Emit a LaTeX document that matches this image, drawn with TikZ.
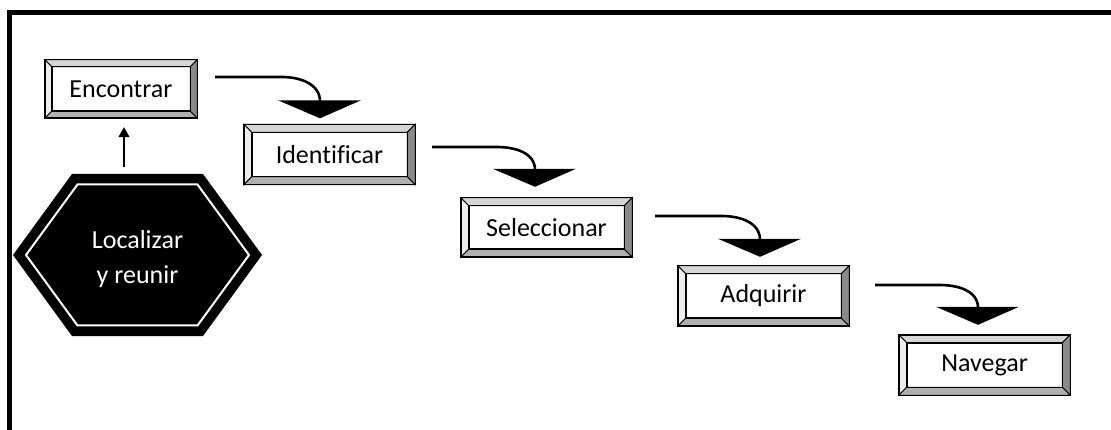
\documentclass[tikz,border=0pt]{standalone}
\usepackage{fontspec}
\setmainfont{Carlito}[Ligatures=NoCommon]
\usetikzlibrary{calc,arrows.meta}

\definecolor{bevtop}{HTML}{D6D6D6}
\definecolor{bevleft}{HTML}{EDEDED}
\definecolor{bevright}{HTML}{8A8A8A}
\definecolor{bevbottom}{HTML}{B0B0B0}

\tikzset{
  stepbox/.style={fill=white, minimum height=44, minimum width=155,
    inner sep=0pt, font=\fontsize{26}{30}\selectfont},
  flowline/.style={line width=2.6pt},
  headfill/.style={fill=black},
  uparrow/.style={line width=1.5pt, -{Triangle[width=11pt,length=10pt]}},
  hexlabel/.style={text=white, align=center, font=\fontsize{26}{35}\selectfont},
}

% bevelled frame around a named box: #1 node, #2 bevel width
\newcommand\bevelframe[2]{%
  \begin{scope}[line width=0.8pt, line join=miter]
    \filldraw[fill=bevtop]    ($(#1.north west)+(-#2,-#2)$) -- ($(#1.north east)+(#2,-#2)$) -- (#1.north east) -- (#1.north west) -- cycle;
    \filldraw[fill=bevleft]   ($(#1.north west)+(-#2,-#2)$) -- ($(#1.south west)+(-#2,#2)$) -- (#1.south west) -- (#1.north west) -- cycle;
    \filldraw[fill=bevright]  ($(#1.north east)+(#2,-#2)$) -- ($(#1.south east)+(#2,#2)$) -- (#1.south east) -- (#1.north east) -- cycle;
    \filldraw[fill=bevbottom] ($(#1.south west)+(-#2,#2)$) -- ($(#1.south east)+(#2,#2)$) -- (#1.south east) -- (#1.south west) -- cycle;
    \draw[line width=1.4pt] ($(#1.north west)+(-#2,-#2)$) rectangle ($(#1.south east)+(#2,#2)$);
    \draw[line width=1.4pt] (#1.north west) rectangle (#1.south east);
  \end{scope}}

% curved connector with a wide triangular head:
% #1 source, #2 target, #3 start offset from source east, #4 tip offset from target north
\newcommand\flowarrow[4]{%
  \coordinate (fs) at ($(#1.east)+(#3)$);
  \coordinate (ft) at ($(#2.north)+(#4)$);
  \coordinate (fc) at (fs -| ft);
  \draw[flowline] (fs) -- ($(fc)+(-38,0)$) to[out=0,in=90] ($(ft)+(0,-17)$);
  \fill[headfill] ($(ft)+(-42,-18)$) -- ($(ft)+(41,-18)$) -- (ft) -- cycle;}

\begin{document}
\begin{tikzpicture}[x=1pt,y=-1pt]
  \useasboundingbox (0,0) rectangle (1111,430);
  \fill[white] (0,0) rectangle (1111,430);

  % outer frame (top and left edges)
  \draw[line width=4.5pt] (9.5,432) -- (9.5,12.5) -- (1113,12.5);

  % the five steps
  \node[stepbox, minimum width=138] (enc) at (121,89) {Encontrar};
  \node[stepbox] (ide) at (329.5,154.5) {Identificar};
  \node[stepbox, minimum height=43] (sel) at (546.5,227.5) {Seleccionar};
  \node[stepbox] (adq) at (763.5,296) {Adquirir};
  \node[stepbox] (nav) at (984.5,365) {Navegar};

  \bevelframe{enc}{7}
  \bevelframe{ide}{8}
  \bevelframe{sel}{8}
  \bevelframe{adq}{8}
  \bevelframe{nav}{8}

  % hexagon
  \coordinate (hc) at (137.5,255);
  \fill[black] ($(hc)+(-124.5,0)$) -- ($(hc)+(-65.5,-81)$) -- ($(hc)+(65.5,-81)$)
    -- ($(hc)+(124.5,0)$) -- ($(hc)+(65.5,81)$) -- ($(hc)+(-65.5,81)$) -- cycle;
  \draw[white, line width=2pt, line join=miter] ($(hc)+(-111.5,0)$) -- ($(hc)+(-60,-70.5)$) -- ($(hc)+(60,-70.5)$)
    -- ($(hc)+(111.5,0)$) -- ($(hc)+(60,70.5)$) -- ($(hc)+(-60,70.5)$) -- cycle;
  \node[hexlabel] (loc) at ($(hc)+(0,4.5)$) {Localizar\\y reunir};

  % connectors
  \coordinate (loctop) at ($(hc)+(-13.5,-88)$);
  \draw[uparrow, shorten >=16pt] (loctop) -- (loctop |- enc.south);

  \flowarrow{enc}{ide}{25,-12}{-9.5,-14}
  \flowarrow{ide}{sel}{25,-7.5}{-11.5,-19}
  \flowarrow{sel}{adq}{31,-11.5}{-3.5,-17}
  \flowarrow{adq}{nav}{34,-11}{-6.5,-18}
\end{tikzpicture}
\end{document}
